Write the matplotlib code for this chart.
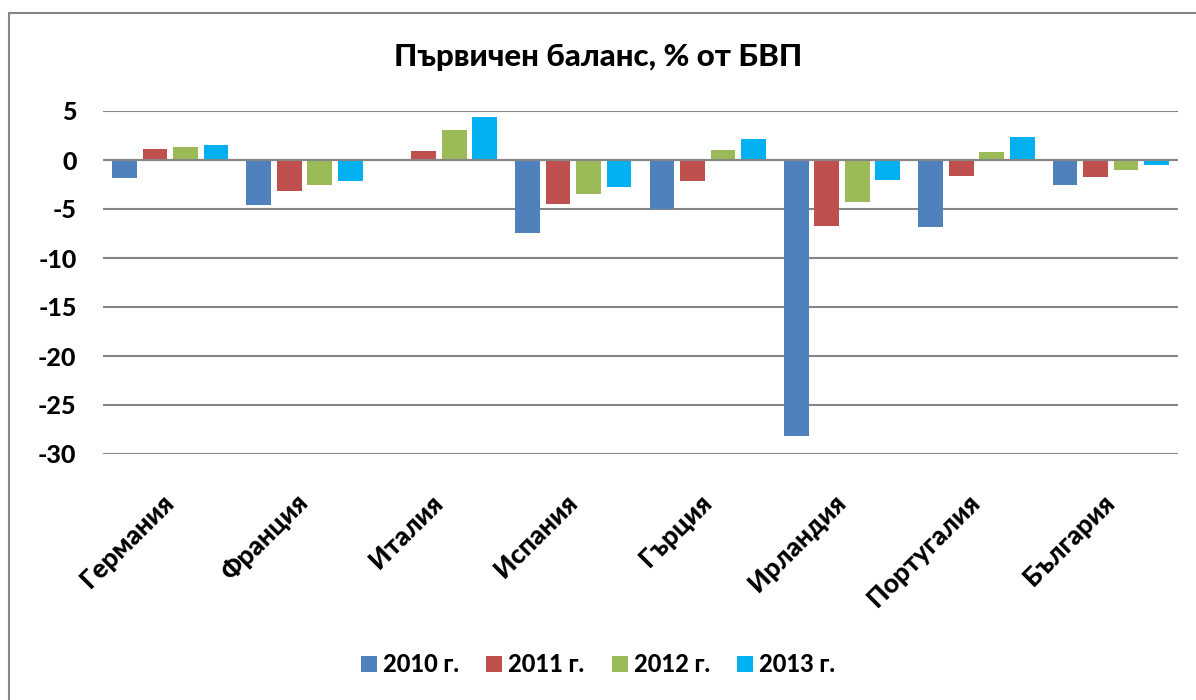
import matplotlib
matplotlib.use("Agg")
import matplotlib.pyplot as plt
import matplotlib.transforms as mtransforms
import numpy as np
from matplotlib.patches import Rectangle

plt.rcParams['font.family'] = ['Lato', 'DejaVu Sans']

categories = ["Германия", "Франция", "Италия", "Испания", "Гърция", "Ирландия", "Португалия", "България"]
series_names = ["2010 г.", "2011 г.", "2012 г.", "2013 г."]
v2010 = [-1.8, -4.6, -0.1, -7.4, -5.0, -28.2, -6.8, -2.5]
v2011 = [1.1, -3.2, 0.9, -4.5, -2.1, -6.7, -1.6, -1.7]
v2012 = [1.3, -2.5, 3.1, -3.5, 1.0, -4.3, 0.8, -1.0]
v2013 = [1.5, -2.1, 4.4, -2.8, 2.1, -2.0, 2.3, -0.5]
colors = ["#4F81BD", "#C0504D", "#9BBB59", "#00B0F0"]
yticks = [5, 0, -5, -10, -15, -20, -25, -30]

W, H = 1196, 700
fig = plt.figure(figsize=(W / 100, H / 100), dpi=100)
fig.patch.set_facecolor("white")
# outer chart frame
fig.add_artist(Rectangle((9 / W, -0.1), 1.2, 1 - 13 / H + 0.1, transform=fig.transFigure,
                         fill=False, edgecolor="#868686", linewidth=1.5))

left, right = 103 / W, 1178 / W
top, bottom = 1 - 111 / H, 1 - 454 / H
ax = fig.add_axes([left, bottom, right - left, top - bottom])

x = np.arange(len(categories))
pitch = 0.227
width = 0.184
all_vals = [v2010, v2011, v2012, v2013]
for i, (vals, c, name) in enumerate(zip(all_vals, colors, series_names)):
    ax.bar(x + (i - 1.5) * pitch, vals, width=width, color=c, label=name, zorder=3)

ax.set_xlim(-0.5, len(categories) - 0.5)
ax.set_ylim(-30, 5)
ax.set_yticks(yticks)
ax.set_yticklabels([str(t) for t in yticks], fontsize=18, fontweight="black")
ax.tick_params(axis="y", length=0, pad=19)
ax.yaxis.grid(True, color="#868686", linewidth=1.5, zorder=0)
ax.axhline(0, color="#868686", linewidth=1.5, zorder=4)
for s in ax.spines.values():
    s.set_visible(False)

ax.set_xticks(x)
ax.set_xticklabels(categories, rotation=45, ha="right", rotation_mode="anchor",
                   fontsize=19, fontweight="black")
ax.tick_params(axis="x", length=0, pad=26)
shift = mtransforms.ScaledTranslation(-9 / 100, 0, fig.dpi_scale_trans)
for lbl in ax.get_xticklabels():
    lbl.set_transform(lbl.get_transform() + shift)

fig.text(0.5, 1 - 57 / H, "Първичен баланс, % от БВП", ha="center", va="center",
         fontsize=22.5, fontweight="black")

leg = fig.legend(loc="center", bbox_to_anchor=(0.5, 1 - 665 / H), ncol=4, frameon=False,
                 prop={"size": 17, "weight": "black"}, handlelength=0.68, handleheight=0.68,
                 handletextpad=0.25, columnspacing=1.15)

fig.savefig("out.png", dpi=100)
